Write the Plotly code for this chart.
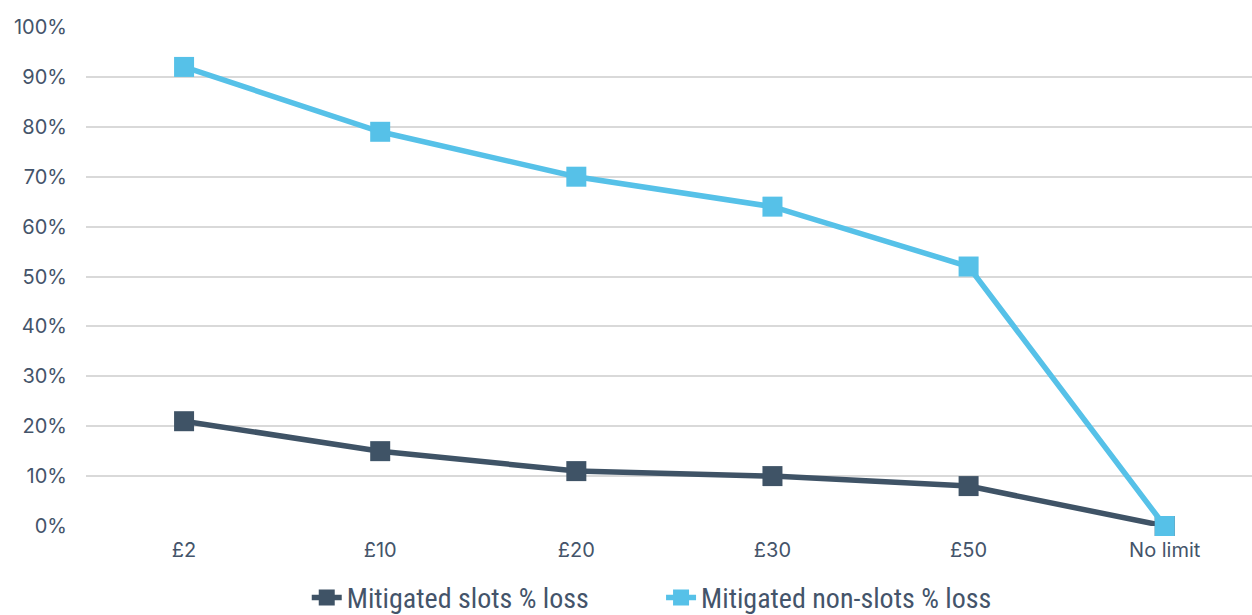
import plotly.graph_objects as go

categories = ["£2", "£10", "£20", "£30", "£50", "No limit"]
slots_loss = [21, 15, 11, 10, 8, 0]
non_slots_loss = [92, 79, 70, 64, 52, 0]

y_ticks = list(range(0, 101, 10))
y_tick_labels = [f"{v}%" for v in y_ticks]

DARK = "#3f5366"
LIGHT = "#56c1e8"
TEXT = "#44546a"

legend_font = dict(family="Roboto Condensed, Roboto, sans-serif", size=28, color=TEXT)

fig = go.Figure()
fig.add_trace(go.Scatter(
    x=categories, y=slots_loss, name="Mitigated slots % loss",
    mode="lines+markers",
    line=dict(color=DARK, width=5.5),
    marker=dict(symbol="square", size=20, color=DARK),
    cliponaxis=False, legend="legend",
))
fig.add_trace(go.Scatter(
    x=categories, y=non_slots_loss, name="Mitigated non-slots % loss",
    mode="lines+markers",
    line=dict(color=LIGHT, width=5.5),
    marker=dict(symbol="square", size=20, color=LIGHT),
    cliponaxis=False, legend="legend2",
))

fig.update_layout(
    width=1252, height=615,
    margin=dict(l=86, r=0, t=27, b=89, autoexpand=False),
    paper_bgcolor="white", plot_bgcolor="white",
    font=dict(family="Inter, Roboto, sans-serif", size=20, color=TEXT),
    showlegend=True,
    legend=dict(
        orientation="h", x=0.245, xanchor="left", xref="container",
        y=0.028, yanchor="middle", yref="container",
        font=legend_font, bgcolor="rgba(0,0,0,0)",
    ),
    legend2=dict(
        orientation="h", x=0.528, xanchor="left", xref="container",
        y=0.028, yanchor="middle", yref="container",
        font=legend_font, bgcolor="rgba(0,0,0,0)",
    ),
    xaxis=dict(
        type="category", range=[-0.5, 5.445],
        showgrid=False, zeroline=False, showline=False,
        ticks="", ticklabelstandoff=10,
        tickfont=dict(size=20, color=TEXT),
    ),
    yaxis=dict(
        range=[0, 100], tickvals=y_ticks, ticktext=y_tick_labels,
        showgrid=True, gridcolor="#d9d9d9", gridwidth=2,
        zeroline=False, showline=False, ticks="",
        ticklabelstandoff=18,
        tickfont=dict(size=20, color=TEXT),
    ),
)

fig.write_html("out.html")
